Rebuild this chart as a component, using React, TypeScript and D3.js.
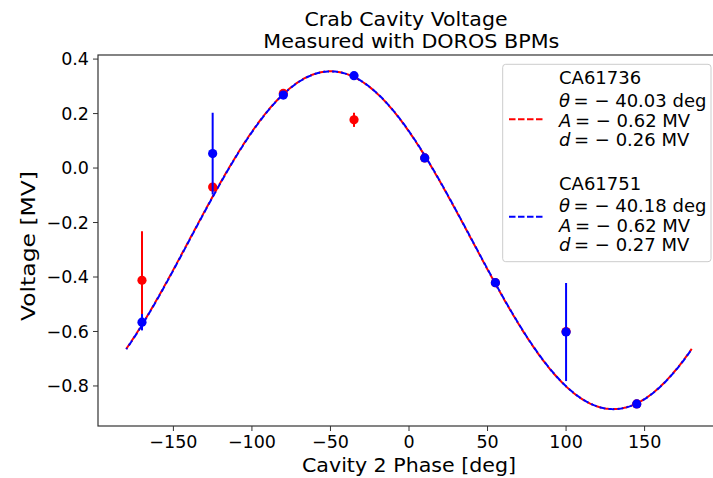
import React from "react";
import * as d3 from "d3";

const phases = [-170, -125, -80, -35, 10, 55, 100, 145];
const redValues = [-0.412, -0.07, 0.274, 0.177, 0.037, -0.421, -0.60, -0.866];
const redErrors = [0.18, 0.012, 0.01, 0.026, 0.01, 0.01, 0.01, 0.01];
const blueValues = [-0.566, 0.053, 0.268, 0.339, 0.037, -0.421, -0.602, -0.866];
const blueErrors = [0.03, 0.15, 0.01, 0.01, 0.01, 0.01, 0.18, 0.01];

const fitNames = ["CA61736", "CA61751"];
const fitTheta = [-40.03, -40.18];
const fitA = [-0.62, -0.62];
const fitD = [-0.26, -0.27];
// unrounded offsets used for drawing the fitted curves (legend shows rounded values)
const fitDExact = [-0.2649, -0.2651];
const fitColors = ["#ff0000", "#0000ff"];

const xTicks = [-150, -100, -50, 0, 50, 100, 150];
const yTicks = [-0.8, -0.6, -0.4, -0.2, 0.0, 0.2, 0.4];

const W = 713, H = 478;
const M = { left: 98, top: 55, right: 720, bottom: 426 };
const FONT = "'DejaVu Sans', sans-serif";

export default function App() {
  const x = d3.scaleLinear().domain([-198, 198]).range([M.left, M.right]);
  const y = d3.scaleLinear().domain([-0.947, 0.415]).range([M.bottom, M.top]);
  const curveX = d3.range(-180, 180.01, 1);
  const fitPath = (i: number) =>
    d3
      .line<number>()
      .x((p) => x(p))
      .y((p) => y(fitA[i] * Math.sin(((p + fitTheta[i]) * Math.PI) / 180) + fitDExact[i]))(curveX) || "";

  const series = [
    { vals: redValues, errs: redErrors, color: fitColors[0] },
    { vals: blueValues, errs: blueErrors, color: fitColors[1] },
  ];

  const legendRowsY = [[77.7, 100, 120, 139.5], [183.3, 205, 225, 244.5]];
  const legendLineY = [119.3, 216.7];
  const fmt = (v: number) => Math.abs(v).toFixed(2);
  const LFS = 18;

  return (
    <svg width={W} height={H} style={{ position: "absolute", left: 0, top: 0, background: "#fff" }} fontFamily={FONT}>
      <defs>
        <clipPath id="plotclip">
          <rect x={M.left} y={M.top} width={M.right - M.left} height={M.bottom - M.top} />
        </clipPath>
      </defs>
      <text x={406} y={26} textAnchor="middle" fontSize={20} fill="#000" textLength={203} lengthAdjust="spacingAndGlyphs">Crab Cavity Voltage</text>
      <text x={411.3} y={48} textAnchor="middle" fontSize={20} fill="#000" textLength={296} lengthAdjust="spacingAndGlyphs">Measured with DOROS BPMs</text>

      <g clipPath="url(#plotclip)">
        <path d={fitPath(0)} fill="none" stroke={fitColors[0]} strokeWidth={2} strokeDasharray="6.5,2.5" />
        <path d={fitPath(1)} fill="none" stroke={fitColors[1]} strokeWidth={2} strokeDasharray="6,3" strokeDashoffset={4.5} />
        {series.map((s, si) => (
          <g key={si}>
            {phases.map((p, i) => (
              <g key={i}>
                <line x1={x(p)} x2={x(p)} y1={y(s.vals[i] - s.errs[i])} y2={y(s.vals[i] + s.errs[i])} stroke={s.color} strokeWidth={2} />
                <circle cx={x(p)} cy={y(s.vals[i])} r={4.6} fill={s.color} />
              </g>
            ))}
          </g>
        ))}
      </g>

      <rect x={M.left} y={M.top} width={M.right - M.left} height={M.bottom - M.top} fill="none" stroke="#333" strokeWidth={1.2} />

      {xTicks.map((t) => (
        <g key={t}>
          <line x1={x(t)} x2={x(t)} y1={M.bottom} y2={M.bottom + 5} stroke="#333" strokeWidth={1} />
          <text x={x(t)} y={447.5} textAnchor="middle" fontSize={17.5} fill="#000">
            {t < 0 ? "\u2212" + Math.abs(t) : String(t)}
          </text>
        </g>
      ))}
      {yTicks.map((t) => (
        <g key={t}>
          <line x1={M.left - 5} x2={M.left} y1={y(t)} y2={y(t)} stroke="#333" strokeWidth={1} />
          <text x={89} y={y(t) + 6.3} textAnchor="end" fontSize={17.5} fill="#000">
            {(t < 0 ? "\u2212" : "") + Math.abs(t).toFixed(1)}
          </text>
        </g>
      ))}

      <text x={409} y={471.5} textAnchor="middle" fontSize={19} fill="#000" textLength={214} lengthAdjust="spacingAndGlyphs">Cavity 2 Phase [deg]</text>
      <text transform={`translate(35, 246) rotate(-90)`} textAnchor="middle" fontSize={20} fill="#000" textLength={150} lengthAdjust="spacingAndGlyphs">Voltage [MV]</text>

      <rect x={502.7} y={64.3} width={208.3} height={197.4} rx={3} fill="#fff" fillOpacity={0.8} stroke="#cccccc" strokeWidth={1} />
      {fitNames.map((n, i) => (
        <g key={n}>
          <line x1={509} x2={542.7} y1={legendLineY[i]} y2={legendLineY[i]} stroke={fitColors[i]} strokeWidth={2} strokeDasharray="6.5,2.5" />
          <text x={559} y={legendRowsY[i][0] + 6.5} fontSize={LFS} fill="#000">{n}</text>
          <text x={559} y={legendRowsY[i][1] + 6.5} fontSize={LFS} fill="#000">
            <tspan fontStyle="italic">θ</tspan>
            <tspan>{"\u2009= \u2212 " + fmt(fitTheta[i]) + " deg"}</tspan>
          </text>
          <text x={559} y={legendRowsY[i][2] + 6.5} fontSize={LFS} fill="#000">
            <tspan fontStyle="italic">A</tspan>
            <tspan>{"\u2009= \u2212 " + fmt(fitA[i]) + " MV"}</tspan>
          </text>
          <text x={559} y={legendRowsY[i][3] + 6.5} fontSize={LFS} fill="#000">
            <tspan fontStyle="italic">d</tspan>
            <tspan>{"\u2009= \u2212 " + fmt(fitD[i]) + " MV"}</tspan>
          </text>
        </g>
      ))}
    </svg>
  );
}
